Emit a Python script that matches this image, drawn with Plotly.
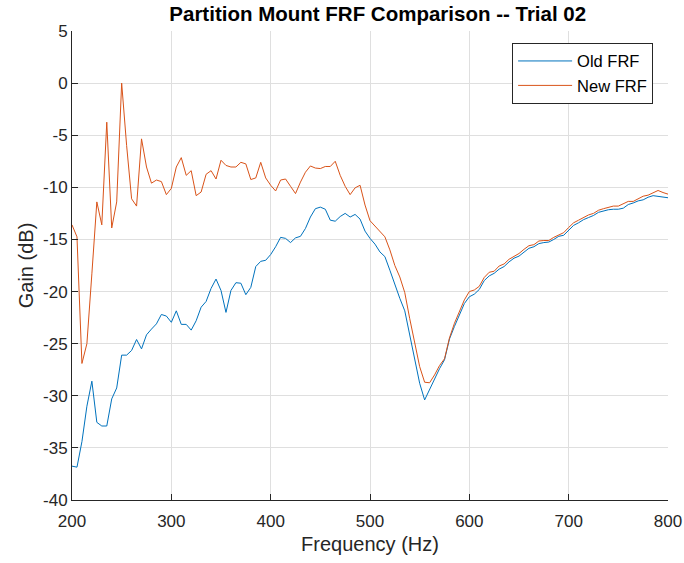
import plotly.graph_objects as go

# Frequency grid (Hz), 5 Hz steps
freq = list(range(200, 805, 5))

# Measured gain (dB) of the original partition mount
old_frf = [
    -36.75, -36.85, -34.4, -31.0, -28.6, -32.55, -32.9, -32.9, -30.3, -29.25,
    -26.1, -26.1, -25.65, -24.6, -25.5, -24.15, -23.6, -23.1, -22.2, -22.35,
    -22.95, -21.85, -23.15, -23.15, -23.7, -22.8, -21.5, -20.95, -19.7, -18.8,
    -19.9, -22.0, -19.9, -19.15, -19.2, -20.3, -19.6, -17.6, -17.1, -17.0,
    -16.45, -15.7, -14.8, -14.9, -15.3, -14.85, -14.7, -13.95, -12.85, -12.05,
    -11.9, -12.1, -13.15, -13.25, -12.8, -12.5, -12.85, -12.6, -13.05, -14.2,
    -14.9, -15.45, -16.2, -16.65, -17.95, -19.4, -20.65, -21.85, -24.2, -26.7,
    -28.8, -30.4, -29.4, -28.3, -27.4, -26.55, -24.55, -23.35, -22.25, -21.15,
    -20.5, -20.25, -19.8, -18.95, -18.5, -18.25, -17.85, -17.6, -17.15, -16.8,
    -16.6, -16.2, -15.85, -15.7, -15.4, -15.3, -15.25, -15.0, -14.7, -14.6,
    -14.1, -13.65, -13.4, -13.1, -12.9, -12.7, -12.4, -12.25, -12.15, -12.1,
    -12.1, -12.0, -11.65, -11.5, -11.3, -11.2, -10.95, -10.8, -10.85, -10.95,
    -11.0,
]

# Measured gain (dB) of the revised partition mount
new_frf = [
    -13.6, -14.75, -26.9, -25.0, -18.3, -11.4, -13.6, -3.75, -13.9, -11.4,
    0.0, -6.0, -11.1, -11.8, -5.35, -8.05, -9.6, -9.3, -9.45, -10.7,
    -10.1, -8.05, -7.15, -8.85, -8.4, -10.8, -10.45, -8.75, -8.4, -9.2,
    -7.4, -7.9, -8.05, -8.05, -7.6, -7.75, -9.25, -9.1, -7.6, -9.1,
    -9.8, -10.35, -9.3, -9.2, -9.9, -10.6, -9.5, -8.55, -7.95, -8.15,
    -8.2, -8.0, -8.0, -7.5, -8.85, -9.9, -10.7, -10.05, -9.8, -11.7,
    -13.2, -13.7, -14.3, -14.75, -16.0, -17.5, -18.6, -20.1, -22.6, -25.0,
    -27.2, -28.7, -28.75, -28.0, -27.1, -26.45, -24.45, -23.05, -21.95, -20.8,
    -20.0, -19.85, -19.5, -18.65, -18.15, -18.05, -17.55, -17.35, -16.9, -16.6,
    -16.35, -15.95, -15.6, -15.5, -15.15, -15.1, -15.1, -14.8, -14.6, -14.35,
    -13.85, -13.4, -13.15, -12.9, -12.65, -12.5, -12.2, -12.05, -11.9, -11.8,
    -11.8, -11.55, -11.35, -11.35, -11.1, -10.85, -10.75, -10.5, -10.3, -10.5,
    -10.65,
]

x_ticks = [200, 300, 400, 500, 600, 700, 800]
y_ticks = [5, 0, -5, -10, -15, -20, -25, -30, -35, -40]
y_tick_text = [str(v) for v in y_ticks]  # plain hyphen minus signs

FONT = "Liberation Sans, Arial, Helvetica, sans-serif"
AXIS_COLOR = "#262626"
GRID_COLOR = "#dfdfdf"

fig = go.Figure()
fig.add_trace(go.Scatter(x=freq, y=old_frf, mode="lines", name="Old FRF",
                         line=dict(color="#0072BD", width=1)))
fig.add_trace(go.Scatter(x=freq, y=new_frf, mode="lines", name="New FRF",
                         line=dict(color="#D95319", width=1)))

axis_common = dict(
    showline=True, linecolor=AXIS_COLOR, linewidth=1, mirror=False,
    ticks="inside", ticklen=6, tickcolor=AXIS_COLOR, tickwidth=1,
    showgrid=True, gridcolor=GRID_COLOR, gridwidth=1, zeroline=False,
    tickfont=dict(family=FONT, size=17, color=AXIS_COLOR),
    automargin=False,
)

fig.update_layout(
    width=684, height=563,
    margin=dict(l=72, r=16, t=31, b=63),
    paper_bgcolor="white", plot_bgcolor="white",
    font=dict(family=FONT, color=AXIS_COLOR),
    title=dict(text="<b>Partition Mount FRF Comparison -- Trial 02</b>",
               x=0.513, xref="paper", xanchor="center",
               y=1 - 14 / 563, yref="container", yanchor="middle",
               font=dict(family=FONT, size=20.5, color="#000000")),
    xaxis=dict(range=[200, 800], tickvals=x_ticks, ticklabelstandoff=6,
               title=dict(text="Frequency (Hz)", standoff=6,
                          font=dict(family=FONT, size=20, color=AXIS_COLOR)),
               **axis_common),
    yaxis=dict(range=[-40, 5], tickvals=y_ticks, ticktext=y_tick_text,
               title=dict(text="Gain (dB)", standoff=4,
                          font=dict(family=FONT, size=20, color=AXIS_COLOR)),
               **axis_common),
    legend=dict(x=0.975, xanchor="right", y=0.975, yanchor="top",
                bgcolor="white", bordercolor=AXIS_COLOR, borderwidth=1,
                itemwidth=54, tracegroupgap=0,
                font=dict(family=FONT, size=16.5, color="#000000")),
    showlegend=True,
)

fig.write_html("out.html")
